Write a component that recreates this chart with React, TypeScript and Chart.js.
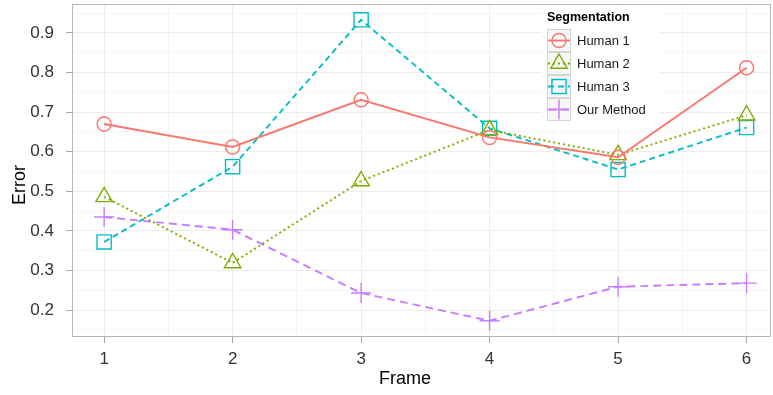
import React, { useEffect, useRef } from "react";
import { Chart, registerables } from "chart.js";

Chart.register(...registerables);

const frames = [1, 2, 3, 4, 5, 6];
const human1 = [0.67, 0.612, 0.731, 0.636, 0.586, 0.812];
const human2 = [0.486, 0.319, 0.526, 0.655, 0.592, 0.692];
const human3 = [0.372, 0.562, 0.933, 0.659, 0.555, 0.661];
const ourMethod = [0.435, 0.403, 0.243, 0.173, 0.259, 0.268];

const xMajorTicks = [1, 2, 3, 4, 5, 6];
const yMajorTicks = [0.2, 0.3, 0.4, 0.5, 0.6, 0.7, 0.8, 0.9];
const legendTitle = "Segmentation";
const xTitle = "Frame";
const yTitle = "Error";

const FONT = '"Liberation Sans", Arial, sans-serif';

type SeriesStyle = {
  label: string;
  data: number[];
  color: string;
  dash: number[];
  marker: string;
  radius: number;
};

const series: SeriesStyle[] = [
  { label: "Human 1", data: human1, color: "#F8766D", dash: [], marker: "circle", radius: 7 },
  { label: "Human 2", data: human2, color: "#7CAE00", dash: [2, 3], marker: "triangle", radius: 9.5 },
  { label: "Human 3", data: human3, color: "#00BFC4", dash: [6, 4], marker: "rect", radius: 10 },
  { label: "Our Method", data: ourMethod, color: "#C77CFF", dash: [8, 5], marker: "cross", radius: 10 },
];

function drawMarker(ctx: CanvasRenderingContext2D, kind: string, x: number, y: number, r: number) {
  ctx.beginPath();
  if (kind === "circle") {
    ctx.arc(x, y, r, 0, Math.PI * 2);
  } else if (kind === "triangle") {
    for (let i = 0; i < 3; i++) {
      const a = -Math.PI / 2 + (i * 2 * Math.PI) / 3;
      const px = x + Math.cos(a) * r;
      const py = y + Math.sin(a) * r;
      if (i === 0) ctx.moveTo(px, py);
      else ctx.lineTo(px, py);
    }
    ctx.closePath();
  } else if (kind === "rect") {
    const s = r * Math.SQRT1_2;
    ctx.rect(x - s, y - s, 2 * s, 2 * s);
  } else if (kind === "cross") {
    ctx.moveTo(x - r, y);
    ctx.lineTo(x + r, y);
    ctx.moveTo(x, y - r);
    ctx.lineTo(x, y + r);
  }
  ctx.stroke();
}

const isMajorX = (v: number) => Math.abs(v - Math.round(v)) < 1e-6;
const isMajorY = (v: number) => Math.abs(v * 10 - Math.round(v * 10)) < 1e-6;

const decorPlugin = {
  id: "decor",
  afterDatasetsDraw(chart: any) {
    const { ctx, chartArea } = chart;
    ctx.save();
    // panel border
    ctx.strokeStyle = "#b8b8b8";
    ctx.lineWidth = 1;
    ctx.setLineDash([]);
    ctx.strokeRect(chartArea.left + 0.5, chartArea.top + 0.5, chartArea.right - chartArea.left - 1, chartArea.bottom - chartArea.top - 1);

    // legend
    const lx = 547;
    const ly = 29;
    const kh = 23;
    const kw = 24;
    ctx.fillStyle = "#ffffff";
    ctx.fillRect(542, 7, 118, 120);
    ctx.fillStyle = "#000000";
    ctx.font = `bold 12.5px ${FONT}`;
    ctx.textBaseline = "alphabetic";
    ctx.textAlign = "left";
    ctx.fillText(legendTitle, lx, 21);
    series.forEach((s, i) => {
      const top = ly + i * kh;
      ctx.fillStyle = "#f7f7f7";
      ctx.fillRect(lx, top, kw, kh);
      ctx.strokeStyle = "#d5d5d5";
      ctx.lineWidth = 1;
      ctx.setLineDash([]);
      ctx.strokeRect(lx + 0.5, top + 0.5, kw - 1, kh - 1);
      const cy = top + kh / 2;
      const cx = lx + kw / 2;
      ctx.strokeStyle = s.color;
      ctx.lineWidth = 1.8;
      ctx.setLineDash(s.dash);
      ctx.beginPath();
      ctx.moveTo(lx + 1, cy);
      ctx.lineTo(lx + kw - 1, cy);
      ctx.stroke();
      ctx.setLineDash([]);
      ctx.lineWidth = 1.4;
      drawMarker(ctx, s.marker, cx, cy, s.radius);
      ctx.fillStyle = "#1a1a1a";
      ctx.font = `13px ${FONT}`;
      ctx.textBaseline = "middle";
      ctx.fillText(s.label, lx + kw + 6, cy + 1);
    });

    // axis titles
    ctx.fillStyle = "#000000";
    ctx.font = `18px ${FONT}`;
    ctx.textAlign = "center";
    ctx.textBaseline = "middle";
    ctx.fillText(xTitle, 405, 379);
    ctx.translate(20, 185);
    ctx.rotate(-Math.PI / 2);
    ctx.fillText(yTitle, 0, 0);
    ctx.restore();
  },
};

export default function App() {
  const ref = useRef<HTMLCanvasElement | null>(null);

  useEffect(() => {
    document.body.style.margin = "0";
    const canvas = ref.current;
    if (!canvas) return;
    const chart = new Chart(canvas, {
      type: "line",
      data: {
        datasets: series.map((s) => ({
          label: s.label,
          data: s.data.map((v, i) => ({ x: frames[i], y: v })),
          borderColor: s.color,
          backgroundColor: "transparent",
          borderWidth: 1.9,
          borderDash: s.dash,
          pointStyle: s.marker as any,
          pointRadius: s.radius,
          pointBorderWidth: 1.4,
          pointBorderColor: s.color,
          pointBackgroundColor: "rgba(0,0,0,0)",
          tension: 0,
          fill: false,
        })),
      },
      options: {
        animation: false,
        responsive: false,
        devicePixelRatio: 1,
        layout: { autoPadding: false, padding: { top: 4, right: 2, left: 0, bottom: 0 } },
        plugins: { legend: { display: false }, tooltip: { enabled: false } },
        scales: {
          x: {
            type: "linear",
            min: 0.75,
            max: 6.19,
            afterBuildTicks: (scale: any) => {
              const t: any[] = [];
              for (let v = 1; v <= 6.0001; v += 0.5) t.push({ value: Math.round(v * 10) / 10 });
              scale.ticks = t;
            },
            afterFit: (scale: any) => {
              scale.height = 58;
              scale.paddingLeft = 0;
              scale.paddingRight = 0;
            },
            ticks: {
              autoSkip: false,
              maxRotation: 0,
              padding: 6,
              color: "#333333",
              font: { family: FONT, size: 17 },
              callback: (v: any) => (isMajorX(Number(v)) && xMajorTicks.includes(Number(v)) ? String(v) : ""),
            },
            grid: {
              color: (c: any) => (c.tick && isMajorX(c.tick.value) ? "#ececec" : "#f5f5f5"),
              tickColor: (c: any) => (c.tick && isMajorX(c.tick.value) ? "#a6a6a6" : "rgba(0,0,0,0)"),
              tickLength: 6,
              lineWidth: 1,
            },
            border: { display: false },
          },
          y: {
            type: "linear",
            min: 0.132,
            max: 0.973,
            afterBuildTicks: (scale: any) => {
              const t: any[] = [];
              for (let k = 3; k <= 19; k++) t.push({ value: Math.round(k * 5) / 100 });
              scale.ticks = t;
            },
            afterFit: (scale: any) => {
              scale.width = 72;
              scale.paddingTop = 0;
              scale.paddingBottom = 0;
            },
            ticks: {
              autoSkip: false,
              padding: 12,
              color: "#333333",
              font: { family: FONT, size: 17 },
              callback: (v: any) => {
                const n = Number(v);
                return isMajorY(n) && yMajorTicks.some((m) => Math.abs(m - n) < 1e-6) ? n.toFixed(1) : "";
              },
            },
            grid: {
              color: (c: any) => (c.tick && isMajorY(c.tick.value) ? "#ececec" : "#f5f5f5"),
              tickColor: (c: any) => (c.tick && isMajorY(c.tick.value) ? "#a6a6a6" : "rgba(0,0,0,0)"),
              tickLength: 6,
              lineWidth: 1,
            },
            border: { display: false },
          },
        },
      },
      plugins: [decorPlugin],
    });
    return () => chart.destroy();
  }, []);

  return (
    <div style={{ width: 773, height: 395 }}>
      <canvas ref={ref} width={773} height={395} style={{ display: "block", width: 773, height: 395 }} />
    </div>
  );
}
